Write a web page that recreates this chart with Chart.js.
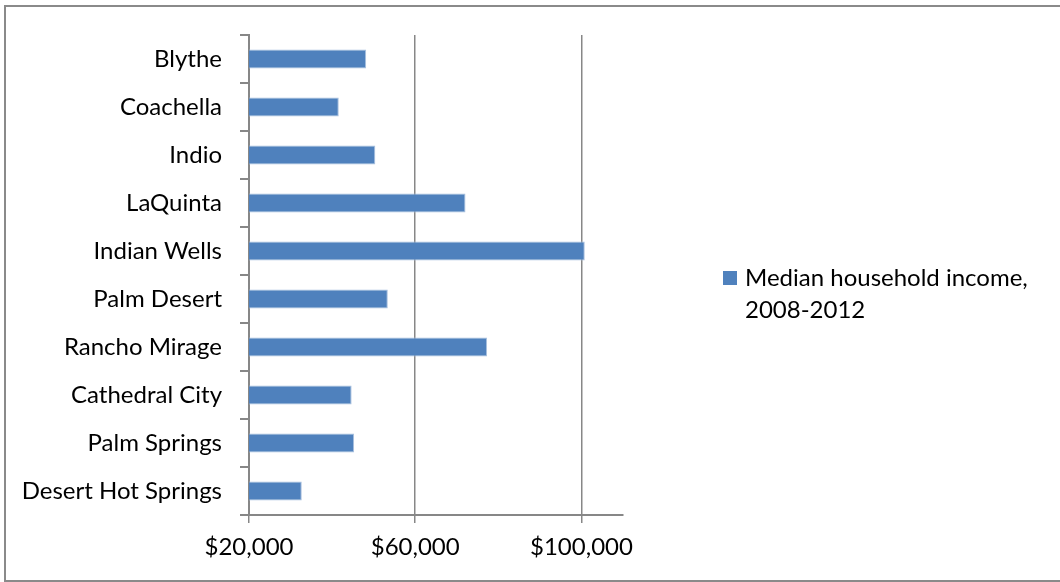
<!DOCTYPE html>
<html lang="en">
<head>
    <meta charset="UTF-8">
    <title>Median household income</title>
    <script src="https://cdn.jsdelivr.net/npm/chart.js"></script>
    <style>
        body {
            margin: 0;
            background: #ffffff;
        }

        /* outer chart frame */
        .frame {
            position: absolute;
            left: 4px;
            top: 5px;
            width: 1070px;
            height: 577px;
            border: 2px solid #8a8a8a;
            box-sizing: border-box;
        }

        .chart-box {
            position: absolute;
            left: 0;
            top: 0;
            width: 1060px;
            height: 582px;
        }
    </style>
</head>
<body>
    <div class="frame"></div>
    <div class="chart-box">
        <canvas id="incomeChart"></canvas>
    </div>

    <script>
        // cities, top to bottom
        const cities = ['Blythe', 'Coachella', 'Indio', 'LaQuinta', 'Indian Wells',
            'Palm Desert', 'Rancho Mirage', 'Cathedral City', 'Palm Springs', 'Desert Hot Springs'];
        const medianIncome = [48200, 41600, 50400, 72100, 100800, 53400, 77300, 44700, 45300, 32700];
        const seriesLabel = 'Median household income, 2008-2012';
        const xTicks = [20000, 60000, 100000];

        const barColor = '#4F81BD';
        const axisColor = '#878787';
        const labelFont = { family: 'Lato', size: 24 };

        // legend drawn to the right of the plot, wrapped onto two lines
        const sideLegend = {
            id: 'sideLegend',
            afterDraw(chart) {
                const ctx = chart.ctx;
                const ds = chart.data.datasets[0];
                ctx.save();
                ctx.font = labelFont.size + 'px ' + labelFont.family;
                const words = ds.label.split(' ');
                const lines = [];
                let line = '';
                words.forEach(w => {
                    const test = line ? line + ' ' + w : w;
                    if (ctx.measureText(test).width > 300 && line) {
                        lines.push(line);
                        line = w;
                    } else {
                        line = test;
                    }
                });
                lines.push(line);

                const x = 723, y = 271;
                ctx.fillStyle = ds.backgroundColor;
                ctx.fillRect(x, y, 14, 14);
                ctx.fillStyle = '#000';
                ctx.textBaseline = 'alphabetic';
                lines.forEach((l, i) => ctx.fillText(l, x + 22, 286 + i * 32));
                ctx.restore();
            }
        };

        const ctx = document.getElementById('incomeChart').getContext('2d');
        new Chart(ctx, {
            type: 'bar',
            data: {
                labels: cities,
                datasets: [{
                    label: seriesLabel,
                    data: medianIncome,
                    backgroundColor: barColor,
                    borderColor: '#a9c0de',
                    borderWidth: 1,
                    borderSkipped: 'start',
                    categoryPercentage: 1,
                    barPercentage: 0.4
                }]
            },
            options: {
                indexAxis: 'y',
                responsive: true,
                maintainAspectRatio: false,
                animation: false,
                layout: {
                    padding: { top: 35, right: 437, bottom: 0, left: 0 }
                },
                plugins: {
                    legend: { display: false },
                    tooltip: { enabled: false }
                },
                scales: {
                    x: {
                        type: 'linear',
                        min: 20000,
                        max: 110000,
                        afterFit(scale) { scale.height = 67; },
                        afterBuildTicks(scale) {
                            scale.ticks = xTicks.map(v => ({ value: v }));
                        },
                        ticks: {
                            color: '#000',
                            font: labelFont,
                            padding: 10,
                            maxRotation: 0,
                            callback: v => '$' + v.toLocaleString('en-US')
                        },
                        grid: {
                            color: axisColor,
                            lineWidth: 1.5,
                            tickLength: 8
                        },
                        border: { color: axisColor, width: 2 }
                    },
                    y: {
                        afterFit(scale) { scale.width = 249; },
                        ticks: {
                            color: '#000',
                            font: labelFont,
                            padding: 18
                        },
                        grid: {
                            offset: true,
                            drawOnChartArea: false,
                            color: axisColor,
                            lineWidth: 2,
                            tickLength: 9
                        },
                        border: { color: axisColor, width: 2 }
                    }
                }
            },
            plugins: [sideLegend]
        });
    </script>
</body>
</html>
